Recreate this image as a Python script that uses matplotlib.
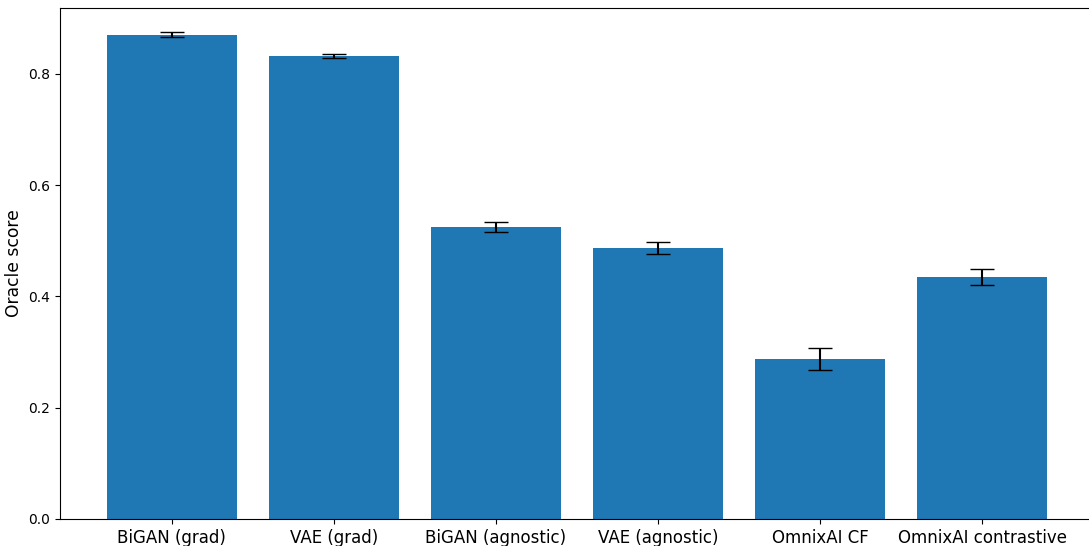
import matplotlib
matplotlib.use("Agg")
from matplotlib import pyplot as plt

methods = ['BiGAN (grad)', 'VAE (grad)', 'BiGAN (agnostic)', 'VAE (agnostic)',
           'OmnixAI CF', 'OmnixAI contrastive']
scores = [0.870, 0.832, 0.525, 0.487, 0.288, 0.435]
errors = [0.0045, 0.004, 0.009, 0.011, 0.020, 0.015]

fig = plt.figure(figsize=(10.89, 5.46), dpi=100)
# the axes run slightly past the right edge of the canvas
ax = fig.add_axes([60 / 1089, 27 / 546, 1034 / 1089, 511 / 546])

ax.bar(methods, scores, yerr=errors, capsize=8.6, color='#1f77b4')
ax.set_ylabel('Oracle score', fontsize=12.3)
ax.tick_params(axis='x', labelsize=12)

fig.savefig('out.png', dpi=100)
